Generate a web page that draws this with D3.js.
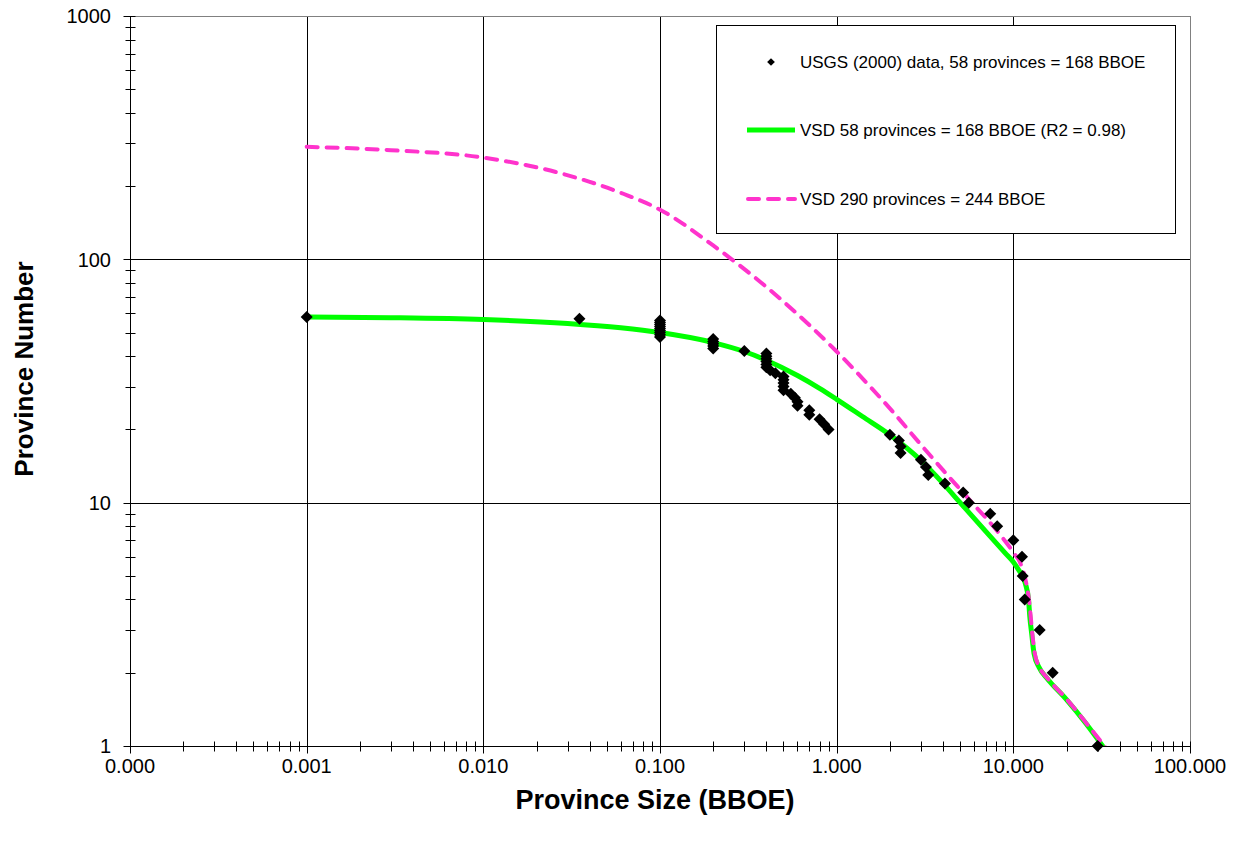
<!DOCTYPE html>
<html>
<head>
<meta charset="utf-8">
<script src="https://cdn.jsdelivr.net/npm/d3@7"></script>
<style>
  body { margin: 0; background: #fff; }
  text { font-family: "Liberation Sans", Arial, sans-serif; }
</style>
</head>
<body>
<div id="chart"></div>
<script>
// USGS (2000) province sizes (BBOE), ranked
const provinceNumber = [1, 2, 3, 4, 5, 6, 7, 8, 9, 10, 11, 12, 13, 14, 15, 16, 17, 18, 19, 20,
    21, 22, 23, 24, 25, 26, 27, 28, 29, 30, 31, 32, 33, 34, 35, 36, 37, 38, 39, 40,
    41, 42, 43, 44, 45, 46, 47, 48, 49, 50, 51, 52, 53, 54, 55, 56, 57, 58];
const provinceSize = [30, 16.7, 14.1, 11.6, 11.3, 11.2, 10.0, 8.1, 7.4, 5.6,
    5.2, 4.1, 3.3, 3.2, 3.0, 2.3, 2.3, 2.25, 2.0, 0.9,
    0.85, 0.8, 0.7, 0.7, 0.6, 0.6, 0.58, 0.55, 0.5, 0.5,
    0.5, 0.5, 0.5, 0.45, 0.42, 0.4, 0.4, 0.4, 0.4, 0.4,
    0.4, 0.3, 0.2, 0.2, 0.2, 0.2, 0.2, 0.1, 0.1, 0.1,
    0.1, 0.1, 0.1, 0.1, 0.1, 0.1, 0.035, 0.001];

// VSD fit, 58 provinces
const vsd58Size = [0.001, 0.003, 0.01, 0.03, 0.06, 0.1, 0.2, 0.3, 0.4, 0.6, 0.8, 1.0, 1.4, 2.0,
    3.0, 4.0, 5.0, 7.0, 9.0, 10.0, 10.7, 11.7, 12.2, 12.4, 12.7, 13.1, 14.0, 15.5, 20, 25.7, 33];
const vsd58Number = [58, 57.6, 56.6, 54.5, 52.3, 50, 45.5, 41.8, 38.5, 33.3, 29.5, 26.6, 22.6, 19.0,
    14.9, 12.0, 10.0, 7.6, 6.2, 5.7, 5.3, 4.65, 3.97, 3.39, 2.9, 2.4, 2.1, 1.9, 1.55, 1.24, 0.97];

// VSD, 290 provinces
const vsd290Size = [0.001, 0.003, 0.01, 0.026, 0.062, 0.1, 0.2, 0.4, 0.7, 1.0, 1.5, 2.0, 3.0, 4.0,
    5.7, 8.4, 10, 11, 11.7, 12.2, 12.5, 12.8, 13.2, 14.1, 15.6, 20, 25.7, 33.5];
const vsd290Number = [290, 281, 262, 228, 186, 160, 114, 77, 53.7, 41.8, 30.7, 24.4, 17.3, 13.6,
    10.2, 7.4, 6.25, 5.6, 4.85, 4.1, 3.5, 2.9, 2.42, 2.1, 1.9, 1.56, 1.25, 0.98];

const xTicks = [0.0001, 0.001, 0.01, 0.1, 1, 10, 100];
const yTicks = [1, 10, 100, 1000];

const legendLabels = [
    "USGS (2000) data, 58 provinces = 168 BBOE",
    "VSD 58 provinces = 168 BBOE (R2 = 0.98)",
    "VSD 290 provinces = 244 BBOE"
];

const width = 1241, height = 845;
const margin = { top: 16, right: 51, bottom: 99, left: 130 };

const svg = d3.select("#chart").append("svg")
    .attr("width", width)
    .attr("height", height);

svg.append("rect").attr("width", width).attr("height", height).attr("fill", "#fff");

const x = d3.scaleLog()
    .domain([0.0001, 100])
    .range([margin.left, width - margin.right]);

const y = d3.scaleLog()
    .domain([1, 1000])
    .range([height - margin.bottom, margin.top]);

// gridlines
svg.append("g")
    .selectAll("line")
    .data(xTicks.slice(1, -1))
    .join("line")
    .attr("x1", d => Math.round(x(d)) + 0.5)
    .attr("x2", d => Math.round(x(d)) + 0.5)
    .attr("y1", y(1000))
    .attr("y2", y(1))
    .attr("stroke", "#000")
    .attr("stroke-width", 1);

svg.append("g")
    .selectAll("line")
    .data(yTicks.slice(1, -1))
    .join("line")
    .attr("x1", x(0.0001))
    .attr("x2", x(100))
    .attr("y1", d => Math.round(y(d)) + 0.5)
    .attr("y2", d => Math.round(y(d)) + 0.5)
    .attr("stroke", "#000")
    .attr("stroke-width", 1);

// plot area border
svg.append("rect")
    .attr("x", Math.round(x(0.0001)) + 0.5)
    .attr("y", Math.round(y(1000)) + 0.5)
    .attr("width", Math.round(x(100)) - Math.round(x(0.0001)))
    .attr("height", Math.round(y(1)) - Math.round(y(1000)))
    .attr("fill", "none")
    .attr("stroke", "#808080")
    .attr("stroke-width", 1);

// minor ticks (crossing the axes)
const xMinor = [];
xTicks.slice(0, -1).forEach(t => { for (let k = 2; k <= 9; k++) xMinor.push(t * k); });
const yMinor = [];
yTicks.slice(0, -1).forEach(t => { for (let k = 2; k <= 9; k++) yMinor.push(t * k); });

const y0 = Math.round(y(1)) + 0.5;
const x0 = Math.round(x(0.0001)) + 0.5;

svg.append("g")
    .selectAll("line")
    .data(xMinor)
    .join("line")
    .attr("x1", d => Math.round(x(d)) + 0.5)
    .attr("x2", d => Math.round(x(d)) + 0.5)
    .attr("y1", y0 - 5)
    .attr("y2", y0 + 5)
    .attr("stroke", "#000");

svg.append("g")
    .selectAll("line")
    .data(yMinor)
    .join("line")
    .attr("x1", x0 - 5)
    .attr("x2", x0 + 5)
    .attr("y1", d => Math.round(y(d)) + 0.5)
    .attr("y2", d => Math.round(y(d)) + 0.5)
    .attr("stroke", "#000");

// major ticks
svg.append("g")
    .selectAll("line")
    .data(xTicks)
    .join("line")
    .attr("x1", d => Math.round(x(d)) + 0.5)
    .attr("x2", d => Math.round(x(d)) + 0.5)
    .attr("y1", y0 - 5)
    .attr("y2", y0 + 7)
    .attr("stroke", "#000");

svg.append("g")
    .selectAll("line")
    .data(yTicks)
    .join("line")
    .attr("x1", x0 - 7)
    .attr("x2", x0 + 5)
    .attr("y1", d => Math.round(y(d)) + 0.5)
    .attr("y2", d => Math.round(y(d)) + 0.5)
    .attr("stroke", "#000");

// axis lines
svg.append("line")
    .attr("x1", x0).attr("x2", Math.round(x(100)) + 0.5)
    .attr("y1", y0).attr("y2", y0)
    .attr("stroke", "#000");
svg.append("line")
    .attr("x1", x0).attr("x2", x0)
    .attr("y1", Math.round(y(1000)) + 0.5).attr("y2", y0)
    .attr("stroke", "#000");

// tick labels
svg.append("g")
    .selectAll("text")
    .data(xTicks)
    .join("text")
    .attr("x", d => x(d))
    .attr("y", 773)
    .attr("text-anchor", "middle")
    .attr("font-size", "20px")
    .text(d => d3.format(".3f")(d));

svg.append("g")
    .selectAll("text")
    .data(yTicks)
    .join("text")
    .attr("x", 111)
    .attr("y", d => y(d))
    .attr("dy", "0.36em")
    .attr("text-anchor", "end")
    .attr("font-size", "20px")
    .text(d => d);

// axis titles
svg.append("text")
    .attr("x", 655)
    .attr("y", 809)
    .attr("text-anchor", "middle")
    .attr("font-size", "27px")
    .attr("font-weight", "bold")
    .text("Province Size (BBOE)");

svg.append("text")
    .attr("transform", "translate(33, 369) rotate(-90)")
    .attr("text-anchor", "middle")
    .attr("font-size", "26px")
    .attr("font-weight", "bold")
    .text("Province Number");

// curves
svg.append("clipPath").attr("id", "plot-clip")
    .append("rect")
    .attr("x", x(0.0001)).attr("y", y(1000))
    .attr("width", x(100) - x(0.0001)).attr("height", y(1) - y(1000));

const line = d3.line()
    .x(d => x(d[0]))
    .y(d => y(d[1]))
    .curve(d3.curveMonotoneX);

svg.append("path")
    .datum(d3.zip(vsd58Size, vsd58Number))
    .attr("clip-path", "url(#plot-clip)")
    .attr("d", line)
    .attr("fill", "none")
    .attr("stroke", "#00ff00")
    .attr("stroke-width", 5);

svg.append("path")
    .datum(d3.zip(vsd290Size, vsd290Number))
    .attr("clip-path", "url(#plot-clip)")
    .attr("d", line)
    .attr("fill", "none")
    .attr("stroke", "#ff33cc")
    .attr("stroke-width", 4)
    .attr("stroke-linecap", "round")
    .attr("stroke-dasharray", "11,9");

// data points
const diamond = d3.symbol(d3.symbolSquare, 72);
svg.append("g")
    .selectAll("path")
    .data(d3.zip(provinceSize, provinceNumber))
    .join("path")
    .attr("d", diamond)
    .attr("transform", d => `translate(${x(d[0])},${y(d[1])}) rotate(45)`)
    .attr("fill", "#000");

// legend
const legend = svg.append("g");
legend.append("rect")
    .attr("x", 716.5).attr("y", 25.5)
    .attr("width", 459).attr("height", 208)
    .attr("fill", "#fff")
    .attr("stroke", "#000");

const legendY = [62, 130, 199];

legend.append("path")
    .attr("d", d3.symbol(d3.symbolSquare, 30))
    .attr("transform", `translate(771,${legendY[0]}) rotate(45)`)
    .attr("fill", "#000");

legend.append("line")
    .attr("x1", 747).attr("x2", 795)
    .attr("y1", legendY[1]).attr("y2", legendY[1])
    .attr("stroke", "#00ff00").attr("stroke-width", 5);

legend.append("line")
    .attr("x1", 748).attr("x2", 795)
    .attr("y1", legendY[2]).attr("y2", legendY[2])
    .attr("stroke", "#ff33cc").attr("stroke-width", 4)
    .attr("stroke-linecap", "round")
    .attr("stroke-dasharray", "11,9");

legend.selectAll("text.lbl")
    .data(legendLabels)
    .join("text")
    .attr("class", "lbl")
    .attr("x", 800)
    .attr("y", (d, i) => legendY[i])
    .attr("dy", "0.36em")
    .attr("font-size", "17px")
    .text(d => d);
</script>
</body>
</html>
